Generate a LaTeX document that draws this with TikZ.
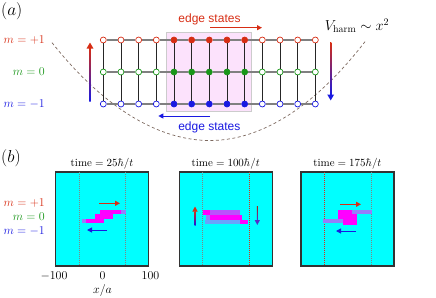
\documentclass[tikz,border=0pt]{standalone}
\usepackage{fontspec}
\usepackage{tikz}
\usetikzlibrary{arrows.meta,positioning}
\newfontfamily\edgefont{Liberation Sans}
\definecolor{mred}{RGB}{215,45,20}
\definecolor{mgreen}{RGB}{25,150,25}
\definecolor{mblue}{RGB}{25,25,225}
\definecolor{edgepink}{RGB}{252,226,252}
\definecolor{potbrown}{RGB}{125,105,95}
\definecolor{simcyan}{RGB}{0,255,255}
\definecolor{simmag}{RGB}{255,0,255}
\definecolor{haze}{RGB}{150,125,250}
\definecolor{mpurple}{RGB}{85,45,200}
\definecolor{guidegray}{RGB}{130,130,130}

\begin{document}
\begin{tikzpicture}[
  x=1pt, y=-1pt,
  site/.style={
    circle,
    draw=#1,
    fill=white,
    line width=0.7pt,
    minimum size=6pt,
    inner sep=0pt
  },
  fullsite/.style={
    site=#1,
    fill=#1
  },
  rung/.style={black!85, line width=0.6pt},
  leg/.style={black!50, line width=1.3pt},
  mlabel/.style={anchor=east, font=\large, inner sep=0pt},
  edgelabel/.style={font=\edgefont\large, inner sep=0pt},
  tag/.style={anchor=west, font=\LARGE, inner sep=0pt},
  arrow/.style={-{Triangle[length=5pt, width=5pt]}, line width=1pt},
  panel/.style={
    rectangle,
    draw=black!80,
    line width=1.2pt,
    fill=simcyan,
    minimum width=93pt,
    minimum height=94pt,
    inner sep=0pt
  },
  timelabel/.style={font=\fontsize{10.95}{12}\selectfont, inner sep=0pt},
  guide/.style={line width=0.6pt, dash pattern=on 1pt off 1pt},
  wave/.style={fill=simmag},
  fringe/.style={fill=haze}
]
\useasboundingbox (0,0) rectangle (436,297);

% (a) lattice with harmonic trap
\node[tag] (tag-a) at (1,11) {$(a)$};
\filldraw[fill=edgepink, draw=black!20, line width=0.6pt] (166,32.3) rectangle (251.7,111.7);
\draw[potbrown, line width=0.7pt, dash pattern=on 3pt off 2.5pt]
  (52,42.7) parabola bend (210,140.5) (365,41.7);

\foreach \row/\yy/\col in {p/40/mred, z/72/mgreen, n/104/mblue} {
  \foreach \k in {0,...,3,9,10,11,12}
    \node[site=\col] (\row\k) at (103.3+17.67*\k, \yy) {};
  \foreach \k in {4,...,8}
    \node[fullsite=\col] (\row\k) at (103.3+17.67*\k, \yy) {};
  \foreach \k [count=\kn from 1] in {0,...,11}
    \draw[leg] (\row\k) -- (\row\kn);
}
\foreach \k in {0,...,12} {
  \draw[rung] (p\k) -- (z\k);
  \draw[rung] (z\k) -- (n\k);
}

\node[mlabel, mred] (ma-p) at (45,40) {$m=+1$};
\node[mlabel, mgreen] (ma-z) at (45,72) {$m=0$};
\node[mlabel, mblue] (ma-n) at (45,104) {$m=-1$};

\node[edgelabel, mred] (edge-top) at (209.5,19) {edge states};
\coordinate (et-a) at (210,27.7);
\coordinate (et-b) at (262,27.7);
\draw[arrow, mred] (et-a) -- (et-b);
\node[edgelabel, mblue] (edge-bot) at (209.3,127.5) {edge states};
\coordinate (eb-a) at (210,116);
\coordinate (eb-b) at (158.3,116);
\draw[arrow, mblue] (eb-a) -- (eb-b);

% gradient arrows m=-1 -> m=+1 and back
\shade[top color=mred, bottom color=mblue] (89.3,48) rectangle (90.7,101);
\coordinate (lu-a) at (90,50);
\coordinate (lu-b) at (90,42.5);
\draw[mred, -{Triangle[length=6pt, width=6.5pt]}, line width=1.4pt] (lu-a) -- (lu-b);
\shade[top color=mred, bottom color=mblue] (330,42.7) rectangle (331.4,95);
\coordinate (rd-a) at (330.7,93);
\coordinate (rd-b) at (330.7,100.5);
\draw[mblue, -{Triangle[length=6pt, width=6.5pt]}, line width=1.4pt] (rd-a) -- (rd-b);

\node[font=\Large, inner sep=0pt] (vharm) at (357,26) {$V_{\mathrm{harm}}\sim x^2$};

% (b) time evolution
\node[tag] (tag-b) at (1,158.3) {$(b)$};
\node[panel] (p1) at (102,219) {};
\node[panel, right=29.5pt of p1] (p2) {};
\node[panel, right=27.5pt of p2] (p3) {};
\node[timelabel, above=2pt of p1] (time1) {$\mathrm{time}=25\hbar/t$};
\node[timelabel, above=2pt of p2] (time2) {$\mathrm{time}=100\hbar/t$};
\node[timelabel, above=2pt of p3] (time3) {$\mathrm{time}=175\hbar/t$};

\draw[guide, guidegray] (79.3,172) -- (79.3,266);
\draw[guide, guidegray] (125.2,172) -- (125.2,266);
\draw[guide, guidegray] (202.7,172) -- (202.7,266);
\draw[guide, mred] (249.5,172) -- (249.5,266);
\draw[guide, mred] (324.3,172) -- (324.3,266);
\draw[guide, guidegray] (371,172) -- (371,266);

% wave packets, panel 1
\fill[haze] (82,218.5) rectangle (86,223);
\fill[wave] (86,218.5) rectangle (104,223);
\fill[wave] (95,214) rectangle (113,218.5);
\fill[wave] (100,209.5) rectangle (121,214);
\fill[haze] (121,209.5) rectangle (126,214);
% panel 2
\fill[wave] (203,210) rectangle (210,214.5);
\fill[simmag!35!haze] (210,210) rectangle (240,214.5);
\fill[haze] (206,214.5) rectangle (210,219.5);
\fill[wave] (210,214.5) rectangle (242,219.5);
\fill[haze!70!simcyan] (205,219.5) rectangle (240,224);
\fill[wave] (240,219.5) rectangle (248.3,224);
% panel 3
\fill[wave] (338,210) rectangle (352,214);
\fill[fringe] (352,210) rectangle (372,214);
\fill[wave] (338,214) rectangle (357,219);
\fill[fringe] (323,219) rectangle (343,223);
\fill[wave] (343,219) rectangle (357,225);

% arrows in panels
\coordinate (a1r-a) at (99,203.3);
\coordinate (a1r-b) at (120,203.3);
\draw[arrow, mred] (a1r-a) -- (a1r-b);
\coordinate (a1b-a) at (107,230);
\coordinate (a1b-b) at (87,230);
\draw[arrow, mblue] (a1b-a) -- (a1b-b);
\coordinate (a3r-a) at (340,204.3);
\coordinate (a3r-b) at (361,204.3);
\draw[arrow, mred] (a3r-a) -- (a3r-b);
\coordinate (a3b-a) at (356,231);
\coordinate (a3b-b) at (336,231);
\draw[arrow, mblue] (a3b-a) -- (a3b-b);

\shade[top color=mred, bottom color=mblue] (194.5,211) rectangle (195.5,225);
\coordinate (a2u-a) at (195,212);
\coordinate (a2u-b) at (195,206.5);
\draw[mred, -{Triangle[length=5pt, width=5pt]}, line width=1pt] (a2u-a) -- (a2u-b);
\shade[top color=mred!80!black, bottom color=mpurple] (256.8,206.7) rectangle (257.8,220);
\coordinate (a2d-a) at (257.3,219);
\coordinate (a2d-b) at (257.3,225);
\draw[mpurple, -{Triangle[length=5pt, width=5pt]}, line width=1pt] (a2d-a) -- (a2d-b);

\node[mlabel, mred] (mb-p) at (45,203) {$m=+1$};
\node[mlabel, mgreen] (mb-z) at (45,216.8) {$m=0$};
\node[mlabel, mblue] (mb-n) at (45,231) {$m=-1$};

\node[font=\large, inner sep=0pt] (tick-l) at (54,276) {$-100$};
\node[font=\large, inner sep=0pt] (tick-m) at (102.5,276) {$0$};
\node[font=\large, inner sep=0pt] (tick-r) at (150.5,276) {$100$};
\node[font=\large, inner sep=0pt] (xaxis) at (102.5,290.5) {$x/a$};

\end{tikzpicture}
\end{document}
